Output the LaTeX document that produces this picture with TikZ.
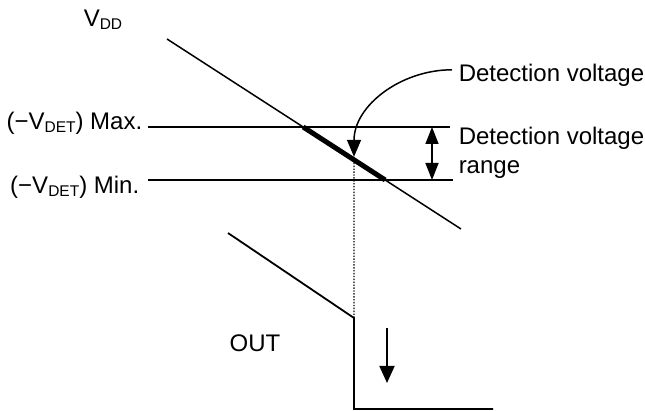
\documentclass[tikz,border=0pt]{standalone}
\usepackage{fontspec}
\setmainfont{Liberation Sans}
\usetikzlibrary{arrows.meta}
\newcommand{\lowidx}[1]{\raisebox{-2.5pt}{\fontsize{15.5}{15.5}\selectfont #1}}

\begin{document}
\begin{tikzpicture}
[x=10pt, y=-10pt, line width=1.5pt, font=\fontsize{24}{28}\selectfont,
 lbl/.style={inner sep=0pt},
 bighead/.style={-{Triangle[length=17pt,width=14pt]}}]
\useasboundingbox (0,0) rectangle (64.5,41.1);
%% Max and Min levels
\coordinate (mxL) at (14.8,12.7);
\coordinate (mxR) at (45.0,12.7);
\coordinate (mnL) at (14.8,18.0);
\coordinate (mnR) at (45.3,18.0);
\draw (mxL) -- (mxR); %% Max
\draw (mnL) -- (mnR); %% Min
\node[lbl, anchor=base east] (maxlbl) at (14.3,13.0) {(−V\lowidx{DET}) Max.};
\node[lbl, anchor=base east] (minlbl) at (14.0,19.4) {(−V\lowidx{DET}) Min.};
%% VDD
\node[lbl, anchor=base west] (vddlbl) at (8.3,2.7) {V\lowidx{DD}};
\coordinate (vdd1) at (16.7,3.9);
\coordinate (vdd2) at (46.1,22.9);
\draw (vdd1) -- (vdd2);
\draw[line width=5pt] (intersection of vdd1--vdd2 and mxL--mxR)
  -- (intersection of vdd1--vdd2 and mnL--mnR); %% thick part
%% detection point
\coordinate (dtop) at (35.4,0);
\coordinate (dbot) at (35.4,40);
\coordinate (det) at (intersection of vdd1--vdd2 and dtop--dbot);
\node[lbl, anchor=base west] (detlbl) at (45.8,8.2) {Detection voltage};
\draw[bighead] ([xshift=-6pt,yshift=6pt]detlbl.west) to[out=180,in=90] ([yshift=3pt]det);
%% range
\coordinate (rngT) at (43.2,12.7);
\coordinate (rngB) at (43.2,18.0);
\draw[{Triangle[length=17pt,width=13pt]}-{Triangle[length=17pt,width=13pt]}] (rngT) -- (rngB);
\node[lbl, anchor=base west] (rnglbl) at (45.8,14.5) {Detection voltage};
\node[lbl, anchor=base west] (rnglbl2) at (45.8,17.4) {range};
%% OUT
\coordinate (o1) at (22.8,23.3);
\coordinate (knee) at (35.4,31.8);
\coordinate (olow) at (35.4,40.9);
\coordinate (o2) at (49.3,40.9);
\draw[line width=1.4pt, dash pattern=on 1.4pt off 1.5pt] (det) -- (knee); %% dotted
\draw[line width=1.8pt] (o1) -- (knee) -- (olow) -- (o2);
\node[lbl] (outlbl) at (25.5,34.3) {OUT};
\coordinate (dn1) at (38.7,32.8);
\coordinate (dn2) at (38.7,38.3);
\draw[line width=1.8pt, -{Triangle[length=17pt,width=15pt]}] (dn1) -- (dn2);
\end{tikzpicture}
\end{document}
